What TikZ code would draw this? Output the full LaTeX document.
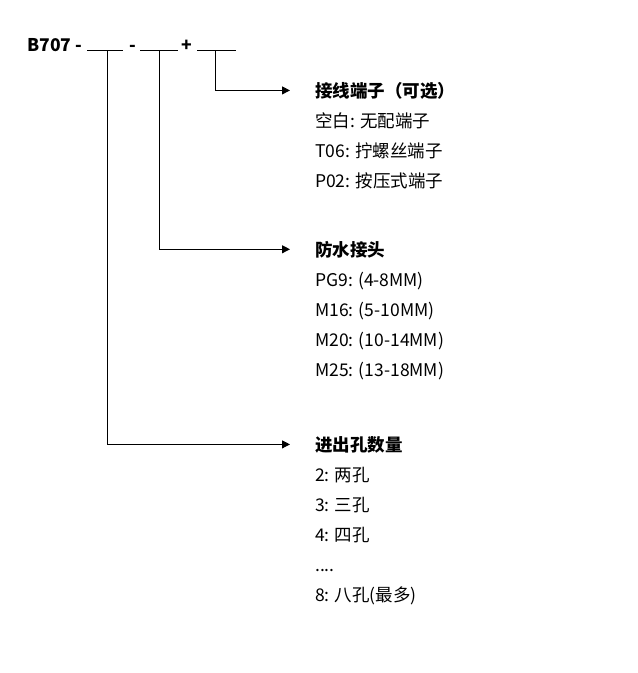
\documentclass[tikz,border=0pt]{standalone}
\usepackage{fontspec}
\setmainfont{Noto Sans CJK SC}
\usetikzlibrary{arrows.meta}

\begin{document}
\begin{tikzpicture}[x=1pt,y=-1pt]
 \tikzset{
  codeText/.style={anchor=base west,inner sep=0pt,font=\fontsize{17.5}{19}\selectfont\bfseries},
  groupHead/.style={anchor=base west,inner sep=0pt,font=\fontsize{17.5}{19}\selectfont\bfseries},
  groupItem/.style={anchor=base west,inner sep=0pt,font=\fontsize{17.5}{19}\selectfont},
  blankLine/.style={line width=1pt},
  pointer/.style={line width=1pt,-{Triangle[length=8pt,width=8pt]}}
  }
  \useasboundingbox (0,0) rectangle (638,673);
  % the code line
  \node[codeText] (bCode) at (27,51.5) {B707 -};
  \node[codeText] (dashA) at (129,51.5) {-};
  \node[codeText] (plusA) at (181,51.5) {+};
  % blanks
  \draw[blankLine] (87,50) -- (123,50);
  \draw[blankLine] (140,50) -- (178,50);
  \draw[blankLine] (197,50) -- (236,50);
  \coordinate (bHole) at (107,50);
  \coordinate (bGland) at (159,50);
  \coordinate (bTerm) at (215,50);

  % terminal group
  \node[groupHead] (hTerm) at (315,97) {接线端子（可选）};
  \node[groupItem] (t1) at (315,127) {空白: 无配端子};
  \node[groupItem] (t2) at (315,157) {T06: 拧螺丝端子};
  \node[groupItem] (t3) at (315,187) {P02: 按压式端子};

  % gland group
  \node[groupHead] (hGland) at (315,256) {防水接头};
  \node[groupItem] (g1) at (315,286) {PG9: (4-8MM)};
  \node[groupItem] (g2) at (315,316) {M16: (5-10MM)};
  \node[groupItem] (g3) at (315,346) {M20: (10-14MM)};
  \node[groupItem] (g4) at (315,376) {M25: (13-18MM)};

  % hole group
  \node[groupHead] (hHole) at (315,451) {进出孔数量};
  \node[groupItem] (h1) at (315,481) {2: 两孔};
  \node[groupItem] (h2) at (315,511) {3: 三孔};
  \node[groupItem] (h3) at (315,541) {4: 四孔};
  \node[groupItem] (h4) at (315,571) {....};
  \node[groupItem] (h5) at (315,601) {8: 八孔(最多)};

  % pointers
  \draw[pointer] (bTerm) |- ([xshift=-25pt]hTerm.west);
  \draw[pointer] (bGland) |- ([xshift=-25pt]hGland.west);
  \draw[pointer] (bHole) |- ([xshift=-25pt]hHole.west);
\end{tikzpicture}
\end{document}
